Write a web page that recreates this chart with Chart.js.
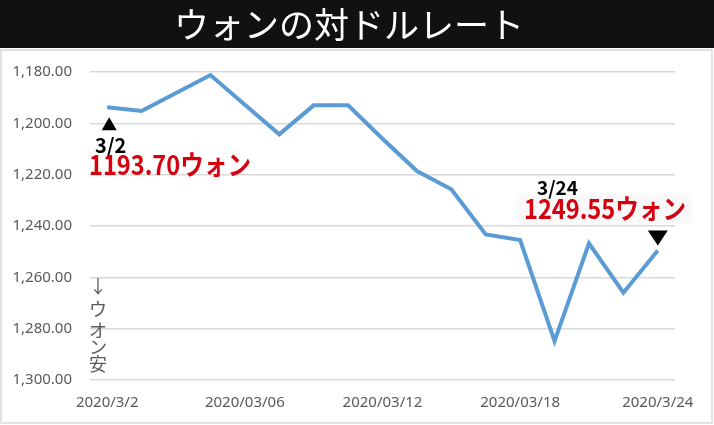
<!DOCTYPE html>
<html>
<head>
<meta charset="utf-8">
<script src="https://cdn.jsdelivr.net/npm/chart.js@4.4.1/dist/chart.umd.min.js"></script>
<style>
  html, body { margin: 0; padding: 0; background: #fff; }
  #wrap { width: 714px; height: 425px; position: relative; }
</style>
</head>
<body>
<div id="wrap"><canvas id="c" width="714" height="425"></canvas></div>
<script>
// trading days 2020/3/2 - 2020/3/24
var dates = ['2020/3/2', '2020/03/03', '2020/03/04', '2020/03/05', '2020/03/06',
             '2020/03/09', '2020/03/10', '2020/03/11', '2020/03/12', '2020/03/13',
             '2020/03/16', '2020/03/17', '2020/03/18', '2020/03/19', '2020/03/20',
             '2020/03/23', '2020/3/24'];
var rates = [1193.70, 1195.2, 1188.2, 1181.2, 1192.8, 1204.3, 1193.0, 1193.0, 1206.0,
             1218.6, 1225.7, 1243.3, 1245.5, 1284.9, 1246.8, 1266.0, 1249.55];
var shownTicks = [0, 4, 8, 12, 16];
var yTicks = [1180, 1200, 1220, 1240, 1260, 1280, 1300];

var title = 'ウォンの対ドルレート';
var firstNote = ['3/2', '1193.70ウォン'];
var lastNote = ['3/24', '1249.55ウォン'];
var sideNote = ['↓', 'ウ', 'オ', 'ン', '安'];

var decorations = {
    id: 'decorations',
    beforeDraw: function(chart) {
        var ctx = chart.ctx;
        ctx.save();
        ctx.fillStyle = '#fff';
        ctx.fillRect(0, 0, 714, 425);
        // banner
        ctx.fillStyle = '#111111';
        ctx.fillRect(0, 0, 714, 48);
        ctx.fillStyle = '#fff';
        ctx.font = '35px "Noto Sans CJK JP"';
        ctx.textAlign = 'center';
        ctx.textBaseline = 'middle';
        ctx.fillText(title, 349, 25);
        // frame
        ctx.strokeStyle = '#d9d9d9';
        ctx.lineWidth = 1.5;
        ctx.strokeRect(1, 50, 711, 373);
        ctx.restore();
    },
    afterDraw: function(chart) {
        var ctx = chart.ctx;
        var xs = chart.scales.x, ys = chart.scales.y;
        var x0 = xs.getPixelForValue(0), y0 = ys.getPixelForValue(rates[0]);
        var n = rates.length - 1;
        var x1 = xs.getPixelForValue(n), y1 = ys.getPixelForValue(rates[n]);
        ctx.save();
        // up triangle under first point
        ctx.fillStyle = '#000';
        ctx.beginPath();
        ctx.moveTo(x0 + 2, y0 + 10);
        ctx.lineTo(x0 + 9.5, y0 + 23);
        ctx.lineTo(x0 - 5.5, y0 + 23);
        ctx.closePath();
        ctx.fill();
        // down triangle above last point
        ctx.beginPath();
        ctx.moveTo(x1 - 10, y1 - 20);
        ctx.lineTo(x1 + 10, y1 - 20);
        ctx.lineTo(x1, y1 - 5);
        ctx.closePath();
        ctx.fill();

        // faint box behind the last value
        ctx.fillStyle = '#f9f9f9';
        ctx.fillRect(516, 194, 176, 29);

        ctx.fillStyle = '#000';
        ctx.textAlign = 'left';
        ctx.textBaseline = 'alphabetic';
        ctx.font = 'bold 20px "Noto Sans CJK JP"';
        ctx.fillText(firstNote[0], 95, 153, 33);
        ctx.font = 'bold 19px "Noto Sans CJK JP"';
        ctx.fillText(lastNote[0], 537, 195, 42);

        ctx.fillStyle = '#d6000f';
        ctx.font = 'bold 27px "Noto Sans CJK JP"';
        ctx.fillText(firstNote[1], 89, 175, 162);
        ctx.fillText(lastNote[1], 524, 219, 162);

        // vertical note
        ctx.fillStyle = '#595959';
        ctx.textAlign = 'center';
        ctx.textBaseline = 'middle';
        ctx.font = '18px "Noto Sans CJK JP"';
        var cy = [286, 309, 330, 347, 364];
        for (var i = 0; i < sideNote.length; i++) {
            ctx.fillText(sideNote[i], 98, cy[i]);
        }
        ctx.restore();
    }
};

var ctx = document.getElementById('c').getContext('2d');
var myChart = new Chart(ctx, {
    type: 'line',
    data: {
        labels: dates,
        datasets: [{
            label: title,
            data: rates,
            borderColor: '#5b9bd5',
            borderWidth: 4,
            pointRadius: 0,
            tension: 0,
            fill: false
        }]
    },
    options: {
        responsive: false,
        animation: false,
        devicePixelRatio: 1,
        layout: { padding: { top: 72, right: 39, bottom: 0, left: 0 } },
        plugins: {
            legend: { display: false },
            tooltip: { enabled: false }
        },
        scales: {
            x: {
                offset: true,
                grid: { display: false, drawTicks: false },
                border: { display: false },
                afterFit: function(s) { s.height = 45; },
                afterBuildTicks: function(s) {
                    s.ticks = shownTicks.map(function(i) { return { value: i }; });
                },
                ticks: {
                    autoSkip: false,
                    maxRotation: 0,
                    padding: 14,
                    color: '#595959',
                    font: { family: '"Noto Sans"', size: 15 },
                    callback: function(v) { return dates[v]; }
                }
            },
            y: {
                reverse: true,
                min: 1180,
                max: 1300,
                afterFit: function(s) { s.width = 90; },
                afterBuildTicks: function(s) {
                    s.ticks = yTicks.map(function(v) { return { value: v }; });
                },
                grid: { color: '#d9d9d9', lineWidth: 1.5, drawTicks: false },
                border: { display: false },
                ticks: {
                    padding: 18,
                    color: '#595959',
                    font: { family: '"Noto Sans"', size: 15 },
                    callback: function(v) {
                        return v.toLocaleString('en-US', { minimumFractionDigits: 2, maximumFractionDigits: 2 });
                    }
                }
            }
        }
    },
    plugins: [decorations]
});
</script>
</body>
</html>
